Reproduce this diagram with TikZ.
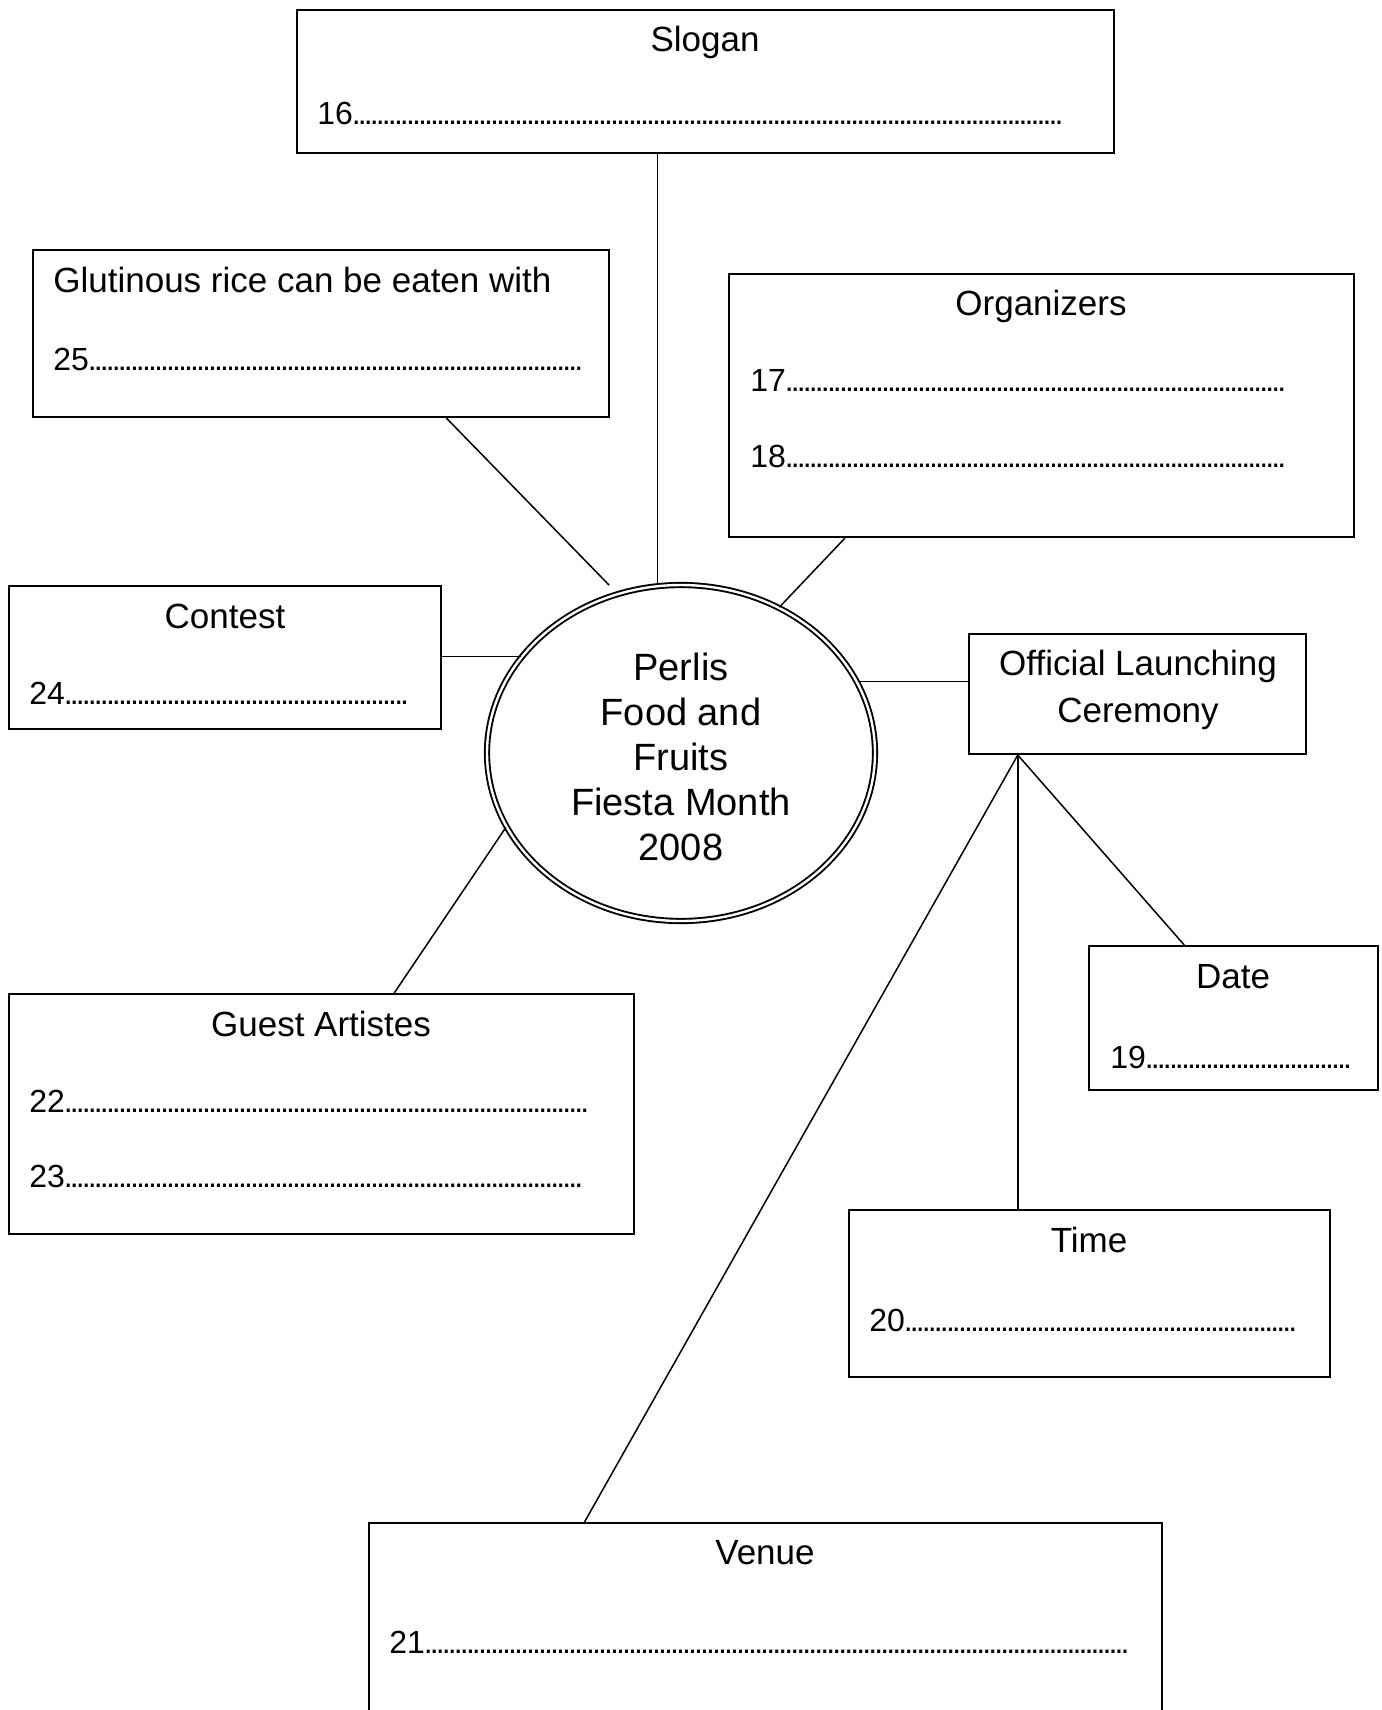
\documentclass[tikz,border=0pt]{standalone}
\usepackage{fontspec}
\setmainfont{Liberation Sans}
\usetikzlibrary{shapes.geometric}
\usetikzlibrary{fit}
\tikzset{box/.style = {draw, line width=1pt, inner sep=0pt}}
\tikzset{head/.style = {font=\fontsize{17.5}{23.5}\selectfont, inner sep=0pt, anchor=base}}
\tikzset{blank/.style = {font=\fontsize{16}{19}\selectfont, inner sep=0pt, anchor=west}}
\tikzset{link/.style = {line width=0.75pt}}
\newcommand{\answerline}[2]{\makebox[#1][l]{#2\leaders\hbox to 3pt{\hss.\hss}\hfill}}

\begin{document}
\begin{tikzpicture}[x=0.5pt, y=-0.5pt]
        \useasboundingbox (0,0) rectangle (1382,1710);
        \clip (0,0) rectangle (1382,1710);
        \node[ellipse, draw, line width=0.95pt, double, double distance=1.2pt,
              minimum width=194pt, minimum height=168pt, inner sep=0pt, align=center,
              font=\fontsize{19}{22.6}\selectfont] (fiesta) at (681,753)
              {\rule{0pt}{17.6pt}Perlis\\Food and\\Fruits\\Fiesta Month\\2008};
        \node[box, fit={(297,10) (1114,153)}] (slogan) {};
        \node[head] (slogantext) at (705,51.5) {Slogan};
        \node[blank] (q16) at (317,113) {\answerline{372pt}{16}};
        \node[box, fit={(33,250) (609,417)}] (glutinous) {};
        \node[head, anchor=base west] (glutinoustext) at (53,292.5) {Glutinous rice can be eaten with};
        \node[blank] (q25) at (53,359) {\answerline{264.5pt}{25}};
        \node[box, fit={(729,274) (1354,537)}] (organizers) {};
        \node[head] (organizerstext) at (1041,315.5) {Organizers};
        \node[blank] (q17) at (750,380) {\answerline{268.5pt}{17}};
        \node[blank] (q18) at (750,456) {\answerline{268.5pt}{18}};
        \node[box, fit={(9,586) (441,729)}] (contest) {};
        \node[head] (contesttext) at (225,628.5) {Contest};
        \node[blank] (q24) at (29,693) {\answerline{189pt}{24}};
        \node[box, fit={(969,634) (1306,754)}] (official) {};
        \node[head, anchor=center, align=center] (officialtext) at (1138,690) {Official Launching\\Ceremony};
        \node[box, fit={(1089,946) (1378,1090)}] (date) {};
        \node[head] (datetext) at (1233,988.5) {Date};
        \node[blank] (q19) at (1110,1057) {\answerline{121.5pt}{19}};
        \node[box, fit={(849,1210) (1330,1377)}] (time) {};
        \node[head] (timetext) at (1089,1252.5) {Time};
        \node[blank] (q20) at (869,1320) {\answerline{213pt}{20}};
        \node[box, fit={(369,1523) (1162,1730)}] (venue) {};
        \node[head] (venuetext) at (765,1564.5) {Venue};
        \node[blank] (q21) at (389,1642) {\answerline{370pt}{21}};
        \node[box, fit={(9,994) (634,1234)}] (guest) {};
        \node[head] (guesttext) at (321,1036.5) {Guest Artistes};
        \node[blank] (q22) at (29,1101) {\answerline{280.5pt}{22}};
        \node[blank] (q23) at (29,1176) {\answerline{277.5pt}{23}};
        \coordinate (glutend) at (609,585);
        \draw[link] (fiesta.98) -- (fiesta.98 |- slogan.south);
        \draw[link] (glutinous.-34.6) -- (glutend);
        \draw[link] (organizers.214.3) -- (fiesta.56);
        \draw[link] (contest.east |- fiesta.149) -- (fiesta.149);
        \draw[link] (guest.59.2) -- (fiesta.203.8);
        \draw[link] (fiesta.22) -- (fiesta.22 -| official.west);
        \draw[link] (official.207.5) -- (date.124);
        \draw[link] (official.207.5) -- (official.207.5 |- time.north);
        \draw[link] (official.207.5) -- (venue.150);
    \end{tikzpicture}
\end{document}
